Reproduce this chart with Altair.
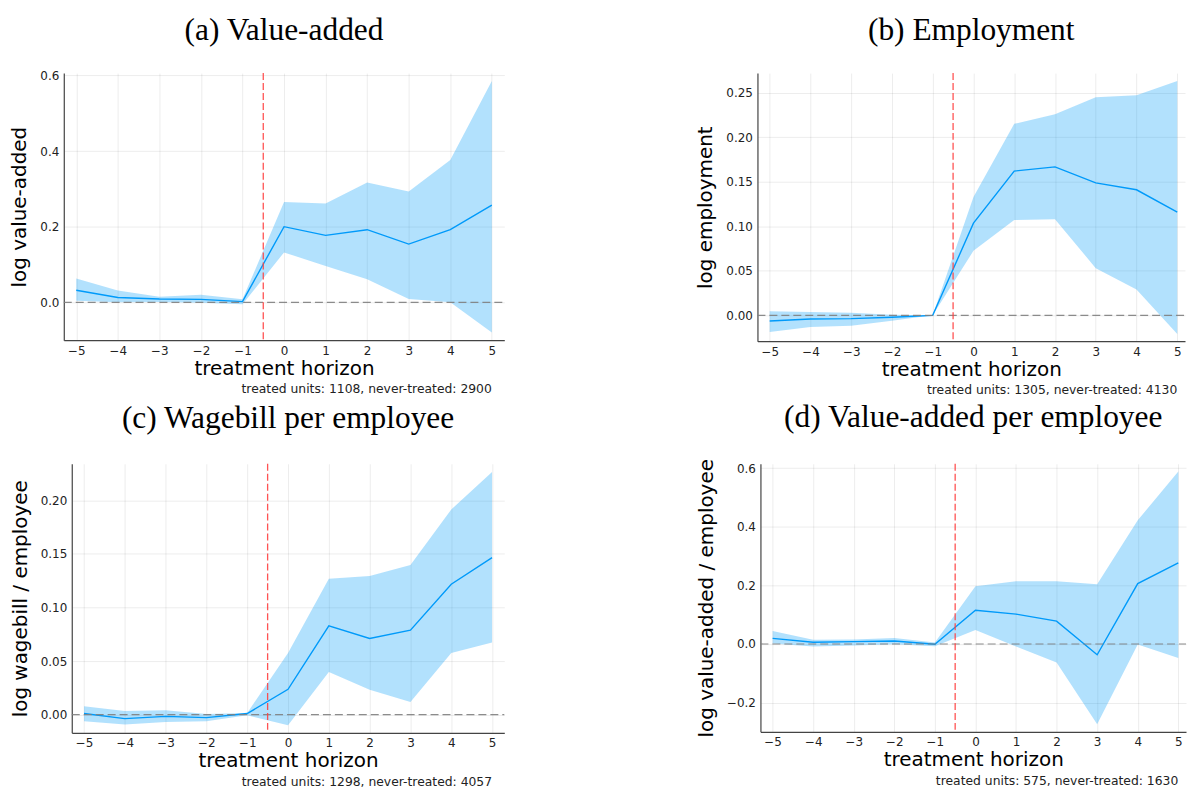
import altair as alt
import pandas as pd

horizon = [-5, -4, -3, -2, -1, 0, 1, 2, 3, 4, 5]

# (a) Value-added
va_est = [0.032, 0.013, 0.009, 0.008, 0.002, 0.200, 0.177, 0.192, 0.154, 0.192, 0.257]
va_hi = [0.063, 0.031, 0.015, 0.020, 0.008, 0.265, 0.261, 0.317, 0.293, 0.376, 0.585]
va_lo = [0.004, 0.000, 0.001, -0.001, -0.005, 0.132, 0.096, 0.061, 0.009, 0.000, -0.080]

# (b) Employment
emp_est = [-0.0064, -0.0041, -0.0037, -0.0022, 0.0, 0.1035, 0.162, 0.1667, 0.1487, 0.141, 0.116]
emp_hi = [0.0045, 0.0037, 0.0030, 0.0007, 0.0, 0.133, 0.215, 0.2257, 0.245, 0.247, 0.263]
emp_lo = [-0.0187, -0.013, -0.0116, -0.006, 0.0, 0.0725, 0.107, 0.108, 0.053, 0.029, -0.021]

# (c) Wagebill per employee
wb_est = [0.001, -0.0037, -0.0016, -0.0028, 0.001, 0.0236, 0.0828, 0.071, 0.0788, 0.1216, 0.1464]
wb_hi = [0.0078, 0.0034, 0.0040, 0.0006, 0.0016, 0.0574, 0.1268, 0.1293, 0.1395, 0.1913, 0.2264]
wb_lo = [-0.0062, -0.0093, -0.0068, -0.0062, -0.0006, -0.0099, 0.0397, 0.0233, 0.0118, 0.0574, 0.0673]

# (d) Value-added per employee
vpe_est = [0.019, 0.006, 0.008, 0.010, -0.001, 0.115, 0.102, 0.078, -0.037, 0.206, 0.277]
vpe_hi = [0.044, 0.014, 0.015, 0.020, 0.005, 0.197, 0.214, 0.214, 0.204, 0.422, 0.589]
vpe_lo = [0.002, -0.009, -0.005, -0.001, -0.008, 0.048, -0.009, -0.063, -0.274, -0.002, -0.048]

titles = ["(a) Value-added", "(b) Employment", "(c) Wagebill per employee", "(d) Value-added per employee"]
ylabels = ["log value-added", "log employment", "log wagebill / employee", "log value-added / employee"]
notes = [
    "treated units: 1108, never-treated: 2900",
    "treated units: 1305, never-treated: 4130",
    "treated units: 1298, never-treated: 4057",
    "treated units: 575, never-treated: 1630",
]
XMIN = -5.3
ydomains = [[-0.1, 0.606], [-0.029, 0.272], [-0.017, 0.234], [-0.30, 0.615]]
yticks = [[0.0, 0.2, 0.4, 0.6], [0.0, 0.05, 0.10, 0.15, 0.20, 0.25],
          [0.0, 0.05, 0.10, 0.15, 0.20], [-0.2, 0.0, 0.2, 0.4, 0.6]]
yformats = [".1f", ".2f", ".2f", ".1f"]
xmaxes = [5.3, 5.19, 5.3, 5.19]
widths = [442, 429, 434, 427]
heights = [268, 269, 270, 269]
insets = [0, 0, 8, 0]          # extra room on the left of the plot frame
title_offsets = [-2, 1, 4, 0]
event_line = -0.5
zero_line = 0.0

BLUE = "#009AFA"
SANS = "DejaVu Sans"
SERIF = "Liberation Serif"


def panel(i, est, lo, hi):
    w, h, ins = widths[i], heights[i], insets[i]
    df = pd.DataFrame({"h": horizon, "est": est, "lo": lo, "hi": hi})
    xs = alt.Scale(domain=[XMIN, xmaxes[i]], range=[ins, ins + w], nice=False, zero=False)
    ys = alt.Scale(domain=ydomains[i], nice=False, zero=False)
    xax = alt.Axis(values=horizon, format="d", title="treatment horizon",
                   labelPadding=5, titlePadding=2, labelFlush=False)
    yax = alt.Axis(values=yticks[i], format=yformats[i], title=ylabels[i],
                   labelPadding=5, titlePadding=10, offset=-ins)
    band = alt.Chart(df).mark_area(color=BLUE, opacity=0.3, clip=True).encode(
        x=alt.X("h:Q", scale=xs, axis=xax),
        y=alt.Y("lo:Q", scale=ys, axis=yax),
        y2="hi:Q",
    )
    line = alt.Chart(df).mark_line(color=BLUE, strokeWidth=1.4, clip=True).encode(
        x="h:Q", y="est:Q"
    )
    hline = alt.Chart(pd.DataFrame({"y": [zero_line], "x0": [XMIN], "x1": [xmaxes[i]]})).mark_rule(
        color="#808080", strokeDash=[8, 4], strokeWidth=1.1, opacity=0.9
    ).encode(y="y:Q", x="x0:Q", x2="x1:Q")
    vline = alt.Chart(pd.DataFrame({"x": [event_line]})).mark_rule(
        color="#FF4040", strokeDash=[7, 3], strokeWidth=1.3, opacity=0.9
    ).encode(x="x:Q")
    note = alt.Chart(pd.DataFrame({"x": [5], "t": [notes[i]]})).mark_text(
        align="right", baseline="alphabetic", font=SANS, fontSize=12.4, color="#222"
    ).encode(x="x:Q", y=alt.value(h + 53), text="t:N")
    return alt.layer(band, line, hline, vline, note).properties(
        width=w + ins, height=h,
        title=alt.TitleParams(titles[i], font=SERIF, fontSize=31.5, fontWeight="normal",
                              anchor="middle", frame="group", baseline="alphabetic",
                              offset=title_offsets[i], color="#000", dx=ins / 2),
    )


a = panel(0, va_est, va_lo, va_hi)
b = panel(1, emp_est, emp_lo, emp_hi)
c = panel(2, wb_est, wb_lo, wb_hi)
d = panel(3, vpe_est, vpe_lo, vpe_hi)

chart = alt.concat(
    a, b, c, d, columns=2, align="none",
    spacing={"row": 5, "column": 191},
).properties(
    padding={"left": 9, "top": 13, "right": 0, "bottom": 0},
    background="white",
).configure_view(stroke=None).configure_axis(
    labelFont=SANS, labelFontSize=12, labelColor="#222",
    titleFont=SANS, titleFontSize=20, titleFontWeight="normal", titleColor="#000",
    domainColor="#444", domainWidth=1.2, ticks=False,
    gridColor="#000", gridOpacity=0.08, gridWidth=1,
)

chart.save("out.html", embed_options={"renderer": "svg", "actions": False})
